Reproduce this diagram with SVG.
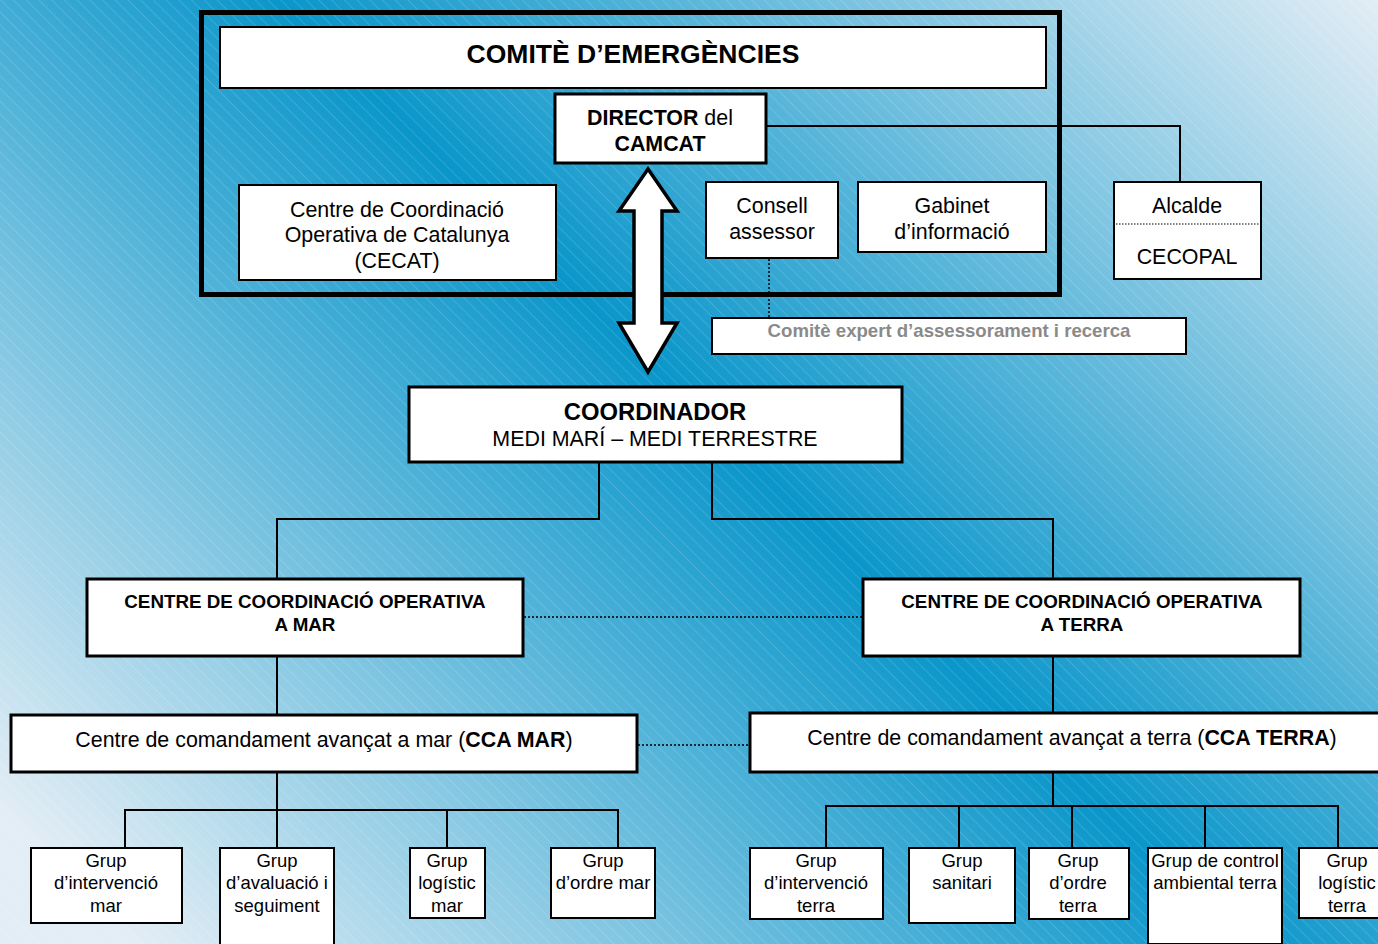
<svg xmlns="http://www.w3.org/2000/svg" width="1378" height="944" viewBox="0 0 1378 944">
<defs>
<linearGradient id="bg" gradientUnits="userSpaceOnUse" x1="1378" y1="0" x2="300" y2="1100">
<stop offset="0" stop-color="#e2edf5"/>
<stop offset="0.5" stop-color="#0a96ca"/>
<stop offset="1" stop-color="#e2edf5"/>
</linearGradient>
<pattern id="hatch" patternUnits="userSpaceOnUse" width="9" height="9" patternTransform="rotate(-45)">
<line x1="0" y1="0" x2="0" y2="9" stroke="#ffffff" stroke-opacity="0.28" stroke-width="1"/>
</pattern>
</defs>
<style>
text{font-family:"Liberation Sans",Arial,sans-serif;fill:#000;text-anchor:middle}
.b{fill:#fff;stroke:#000;stroke-width:2}
.bt{fill:#fff;stroke:#000;stroke-width:3}
.c{fill:none;stroke:#000;stroke-width:2}
.d{fill:none;stroke:#000;stroke-width:1.5;stroke-dasharray:2 2}
.t20{font-size:21.4px}
.t18{font-size:18.5px}
.t17b{font-size:18.8px;font-weight:bold}
.bold{font-weight:bold}
</style>
<rect x="0" y="0" width="1378" height="944" fill="url(#bg)"/>
<rect x="0" y="0" width="1378" height="944" fill="url(#hatch)"/>

<g id="connectors">
<polyline class="c" points="766,126 1180,126 1180,182"/>
<line class="d" x1="769" y1="259" x2="769" y2="318"/>
<polyline class="c" points="599,462 599,519 277,519 277,579"/>
<polyline class="c" points="712,462 712,519 1053,519 1053,579"/>
<line class="d" x1="524" y1="617" x2="863" y2="617"/>
<line class="c" x1="277" y1="656" x2="277" y2="715"/>
<line class="c" x1="1053" y1="656" x2="1053" y2="713"/>
<line class="d" x1="638" y1="745" x2="750" y2="745"/>
<line class="c" x1="277" y1="772" x2="277" y2="810"/>
<polyline class="c" points="125,848 125,810 618,810 618,848"/>
<line class="c" x1="277" y1="810" x2="277" y2="848"/>
<line class="c" x1="447" y1="810" x2="447" y2="848"/>
<line class="c" x1="1053" y1="772" x2="1053" y2="806"/>
<polyline class="c" points="826,848 826,806 1338,806 1338,848"/>
<line class="c" x1="959" y1="806" x2="959" y2="848"/>
<line class="c" x1="1072" y1="806" x2="1072" y2="848"/>
<line class="c" x1="1205" y1="806" x2="1205" y2="848"/>
</g>

<g id="comite-frame">
<rect x="201.5" y="12.5" width="858" height="282" fill="none" stroke="#000" stroke-width="5"/>
</g>

<g id="comite">
<rect class="b" x="220" y="27" width="826" height="61"/>
<text x="633" y="63" font-size="26.5" font-weight="bold">COMITÈ D’EMERGÈNCIES</text>
</g>

<g id="director">
<rect class="bt" x="555" y="94" width="211" height="69"/>
<text x="660" y="125" class="t20"><tspan class="bold">DIRECTOR</tspan> del</text>
<text x="660" y="151" class="t20 bold">CAMCAT</text>
</g>

<g id="cecat">
<rect class="b" x="239" y="185" width="317" height="95"/>
<text x="397" y="217" class="t20">Centre de Coordinació</text>
<text x="397" y="242" class="t20">Operativa de Catalunya</text>
<text x="397" y="268" class="t20">(CECAT)</text>
</g>

<g id="consell">
<rect class="b" x="706" y="182" width="132" height="76"/>
<text x="772" y="213" class="t20">Consell</text>
<text x="772" y="239" class="t20">assessor</text>
</g>

<g id="gabinet">
<rect class="b" x="858" y="182" width="188" height="70"/>
<text x="952" y="213" class="t20">Gabinet</text>
<text x="952" y="239" class="t20">d’informació</text>
</g>

<g id="alcalde">
<rect class="b" x="1114" y="182" width="147" height="97"/>
<line x1="1116" y1="224" x2="1260" y2="224" stroke="#000" stroke-width="1" stroke-dasharray="1.5 1.5"/>
<text x="1187" y="213" class="t20">Alcalde</text>
<text x="1187" y="264" class="t20">CECOPAL</text>
</g>

<g id="comite-expert">
<rect class="b" x="712" y="318" width="474" height="36"/>
<text x="949" y="337" font-size="18.6" font-weight="bold" style="fill:#8a8a8a">Comitè expert d’assessorament i recerca</text>
</g>

<g id="double-arrow">
<polygon points="648,169 677,211 662,211 662,323 677,323 648,372 619,323 634,323 634,211 619,211" fill="#fff" stroke="#000" stroke-width="3.5" stroke-linejoin="miter"/>
</g>

<g id="coordinador">
<rect class="bt" x="409" y="387" width="493" height="75"/>
<text x="655" y="420" font-size="23.8" font-weight="bold">COORDINADOR</text>
<text x="655" y="446" class="t20">MEDI MARÍ – MEDI TERRESTRE</text>
</g>

<g id="cco-mar">
<rect class="bt" x="87" y="579" width="436" height="77"/>
<text x="305" y="608" class="t17b">CENTRE DE COORDINACIÓ OPERATIVA</text>
<text x="305" y="631" class="t17b">A MAR</text>
</g>

<g id="cco-terra">
<rect class="bt" x="863" y="579" width="437" height="77"/>
<text x="1082" y="608" class="t17b">CENTRE DE COORDINACIÓ OPERATIVA</text>
<text x="1082" y="631" class="t17b">A TERRA</text>
</g>

<g id="cca-mar">
<rect class="bt" x="11" y="715" width="626" height="57"/>
<text x="324" y="747" class="t20">Centre de comandament avançat a mar (<tspan class="bold">CCA MAR</tspan>)</text>
</g>

<g id="cca-terra">
<rect class="bt" x="750" y="713" width="640" height="59"/>
<text x="1072" y="745" class="t20">Centre de comandament avançat a terra (<tspan class="bold">CCA TERRA</tspan>)</text>
</g>

<g id="g-intervencio-mar">
<rect class="b" x="31" y="848" width="151" height="75"/>
<text x="106" y="867" class="t18">Grup</text>
<text x="106" y="889" class="t18">d’intervenció</text>
<text x="106" y="912" class="t18">mar</text>
</g>

<g id="g-avaluacio">
<rect class="b" x="220" y="848" width="114" height="104"/>
<text x="277" y="867" class="t18">Grup</text>
<text x="277" y="889" class="t18">d’avaluació i</text>
<text x="277" y="912" class="t18">seguiment</text>
</g>

<g id="g-logistic-mar">
<rect class="b" x="410" y="848" width="75" height="70"/>
<text x="447" y="867" class="t18">Grup</text>
<text x="447" y="889" class="t18">logístic</text>
<text x="447" y="912" class="t18">mar</text>
</g>

<g id="g-ordre-mar">
<rect class="b" x="551" y="848" width="104" height="70"/>
<text x="603" y="867" class="t18">Grup</text>
<text x="603" y="889" class="t18">d’ordre mar</text>
</g>

<g id="g-intervencio-terra">
<rect class="b" x="750" y="848" width="133" height="71"/>
<text x="816" y="867" class="t18">Grup</text>
<text x="816" y="889" class="t18">d’intervenció</text>
<text x="816" y="912" class="t18">terra</text>
</g>

<g id="g-sanitari">
<rect class="b" x="909" y="848" width="106" height="75"/>
<text x="962" y="867" class="t18">Grup</text>
<text x="962" y="889" class="t18">sanitari</text>
</g>

<g id="g-ordre-terra">
<rect class="b" x="1029" y="848" width="100" height="71"/>
<text x="1078" y="867" class="t18">Grup</text>
<text x="1078" y="889" class="t18">d’ordre</text>
<text x="1078" y="912" class="t18">terra</text>
</g>

<g id="g-control-ambiental">
<rect class="b" x="1148" y="848" width="134" height="96"/>
<text x="1215" y="867" class="t18">Grup de control</text>
<text x="1215" y="889" class="t18">ambiental terra</text>
</g>

<g id="g-logistic-terra">
<rect class="b" x="1299" y="848" width="90" height="70"/>
<text x="1347" y="867" class="t18">Grup</text>
<text x="1347" y="889" class="t18">logístic</text>
<text x="1347" y="912" class="t18">terra</text>
</g>
</svg>
